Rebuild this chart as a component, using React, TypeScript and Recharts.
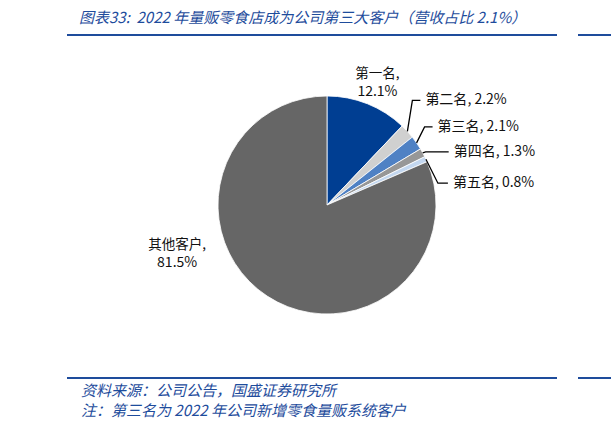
import React from "react";
import { PieChart, Pie, Cell } from "recharts";

const names = ["第一名", "第二名", "第三名", "第四名", "第五名", "其他客户"];
const shares = [12.1, 2.2, 2.1, 1.3, 0.8, 81.5];
const colors = ["#003E92", "#D0D0D0", "#4F81C4", "#979797", "#C3D7EF", "#666666"];

const data = names.map((name, i) => ({ name, value: shares[i] }));

// leader layout per slice, relative to the point on the rim
// kind: "stack" = two lines, no leader; "leader" = elbow + horizontal
const labelLayout = [
  { kind: "stack", dx: 10, dy: -32 },
  { kind: "leader", ex: 5, ey: -31, run: 8 },
  { kind: "leader", ex: 8, ey: -16, run: 8 },
  { kind: "leader", ex: 3, ey: -1, run: 23 },
  { kind: "leader", ex: 12, ey: 24, run: 10 },
  { kind: "stack", dx: -90, dy: -53 },
];

const BLUE = "#1E4C9C";
const RAD = Math.PI / 180;

function renderLabel(props: any) {
  const { cx, cy, midAngle, outerRadius, index, name, value } = props;
  const ax = cx + outerRadius * Math.cos(-midAngle * RAD);
  const ay = cy + outerRadius * Math.sin(-midAngle * RAD);
  const lay: any = labelLayout[index];
  const pct = `${Number(value).toFixed(1)}%`;
  if (lay.kind === "stack") {
    const x = ax + lay.dx;
    const y = ay + lay.dy;
    return (
      <g key={`lbl-${index}`}>
        <text x={x} y={y} textAnchor="middle" dominantBaseline="central" fontSize={13.5} fill="#111">
          {name},
        </text>
        <text x={x} y={y + 18} textAnchor="middle" dominantBaseline="central" fontSize={14} fill="#111">
          {pct}
        </text>
      </g>
    );
  }
  const ex = ax + lay.ex;
  const ey = ay + lay.ey;
  const endX = ex + lay.run;
  return (
    <g key={`lbl-${index}`}>
      <polyline
        points={`${ax},${ay} ${ex},${ey} ${endX},${ey}`}
        fill="none"
        stroke="#000"
        strokeWidth={1.3}
      />
      <text x={endX + 5} y={ey - 2} dominantBaseline="central" fontSize={14} fill="#111">
        {name}, {pct}
      </text>
    </g>
  );
}

export default function App() {
  return (
    <div
      style={{
        position: "fixed",
        left: 0,
        top: 0,
        width: 611,
        height: 431,
        background: "#fff",
        fontFamily: '"Noto Sans CJK SC", "Noto Sans", sans-serif',
      }}
    >
      <div
        style={{
          position: "absolute",
          left: 79,
          top: 7,
          fontSize: 15,
          fontStyle: "italic",
          color: BLUE,
          whiteSpace: "nowrap",
          lineHeight: "20px",
        }}
      >
        图表33:&nbsp; 2022 年量贩零食店成为公司第三大客户（营收占比 2.1%）
      </div>
      <div style={{ position: "absolute", left: 67, top: 34, width: 490, height: 2, background: BLUE }} />
      <div style={{ position: "absolute", left: 578, top: 34, width: 33, height: 2, background: BLUE }} />

      <div style={{ position: "absolute", left: 0, top: 0 }}>
        <PieChart width={611} height={431} margin={{ top: 0, right: 0, bottom: 0, left: 0 }}>
          <Pie
            data={data}
            dataKey="value"
            nameKey="name"
            cx={327}
            cy={205}
            outerRadius={109}
            startAngle={90}
            endAngle={-270}
            stroke="#fff"
            strokeWidth={0.8}
            label={renderLabel}
            labelLine={false}
            isAnimationActive={false}
          >
            {data.map((entry, i) => (
              <Cell key={`cell-${i}`} fill={colors[i]} />
            ))}
          </Pie>
        </PieChart>
      </div>

      <div style={{ position: "absolute", left: 67, top: 377, width: 490, height: 2, background: BLUE }} />
      <div style={{ position: "absolute", left: 578, top: 377, width: 33, height: 2, background: BLUE }} />
      <div
        style={{
          position: "absolute",
          left: 81,
          top: 380,
          fontSize: 15,
          fontStyle: "italic",
          color: BLUE,
          whiteSpace: "nowrap",
          lineHeight: "20px",
        }}
      >
        <div>资料来源：公司公告，国盛证券研究所</div>
        <div>注：第三名为 2022 年公司新增零食量贩系统客户</div>
      </div>
    </div>
  );
}
